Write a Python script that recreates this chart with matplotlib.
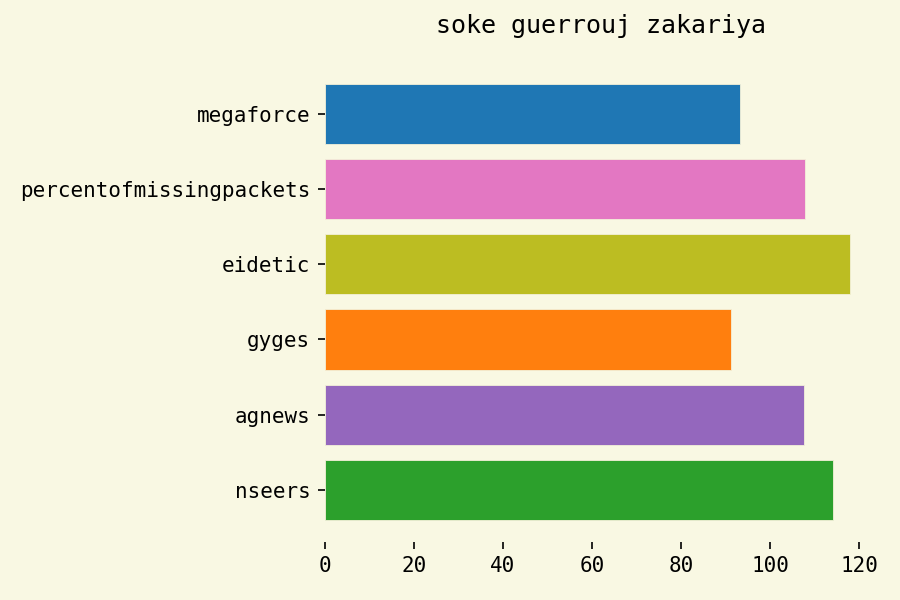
import matplotlib.pyplot as plt

# Datos del gráfico (de abajo hacia arriba)
categories = ['nseers', 'agnews', 'gyges', 'eidetic', 'percentofmissingpackets', 'megaforce']
values = [114.2, 107.7, 91.3, 118.0, 107.9, 93.3]
colors = ['#2ca02c', '#9467bd', '#ff7f0e', '#bcbd22', '#e377c2', '#1f77b4']

bg = '#f9f8e3'
plt.rcParams['font.family'] = 'DejaVu Sans Mono'

fig, ax = plt.subplots(figsize=(6, 4), dpi=150)
fig.patch.set_facecolor(bg)
ax.set_facecolor(bg)

ax.barh(categories, values, color=colors, height=0.8,
        edgecolor='#f3f0d8', linewidth=0.4)

ax.set_title('soke guerrouj zakariya', fontsize=12, pad=14)
for s in ax.spines.values():
    s.set_visible(False)
ax.tick_params(labelsize=10, length=3.5)
ax.set_xticks([0, 20, 40, 60, 80, 100, 120])

fig.subplots_adjust(left=0.361, right=0.974, top=0.897, bottom=0.097)
plt.savefig('out.png', dpi=150, facecolor=bg)
